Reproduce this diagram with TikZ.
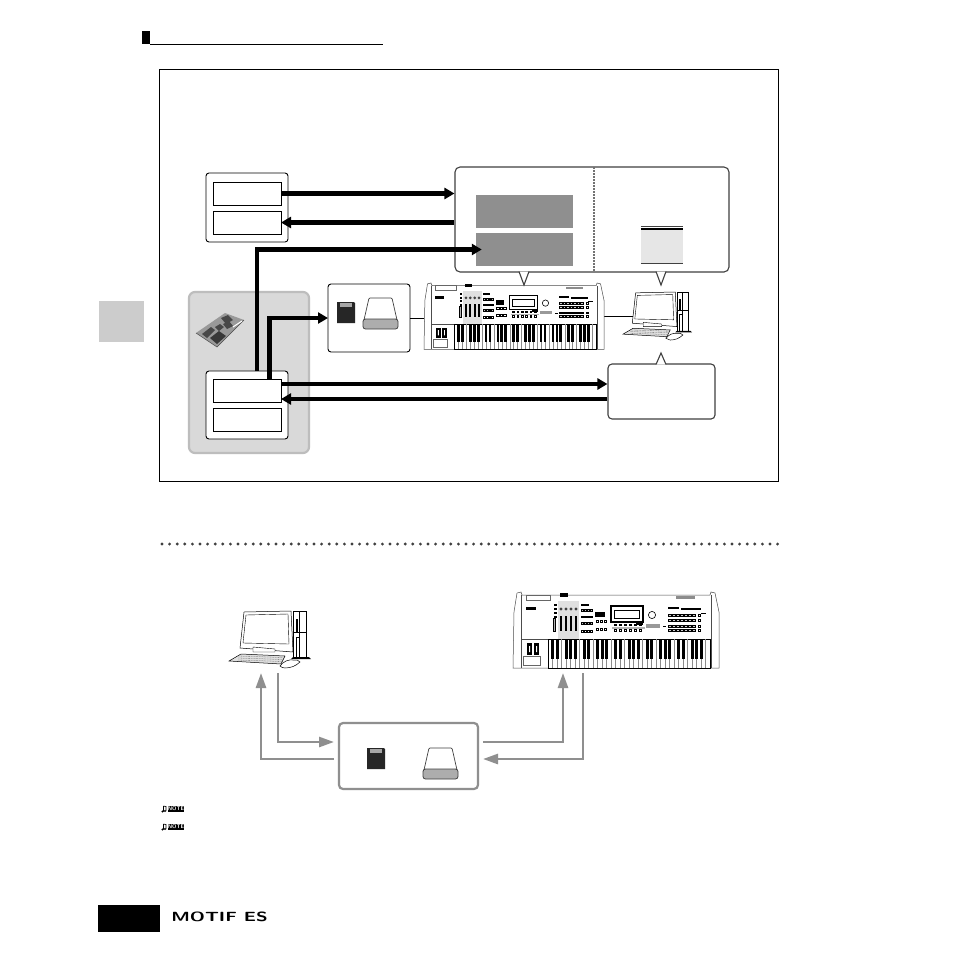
\documentclass[tikz,border=0pt]{standalone}
\usepackage{amsmath}
\usetikzlibrary{arrows.meta,fit,positioning}
\definecolor{panelgray}{HTML}{D9D9D9}
\definecolor{rimgray}{HTML}{BDBDBD}
\definecolor{linkgray}{HTML}{8F8F8F}
\definecolor{memgray}{HTML}{8F8F8F}
\definecolor{docgray}{HTML}{E6E6E6}
\definecolor{inkgray}{HTML}{404040}
\tikzset{
    box/.style = {draw, inner sep=0, outer sep=0, minimum width=#1},
    box/.default = 68pt,
    slot/.style = {box, minimum height=23pt, line width=.8pt},
    outer/.style = {box=82pt, rounded corners=3pt, line width=.9pt, fill=white},
    bubble/.style = {draw=inkgray, line width=1.1pt, fill=white},
    mem/.style = {fill=memgray, inner sep=0, minimum width=97pt, minimum height=33pt},
    hole/.style = {inner sep=0, outer sep=0},
    fat/.style = {line width=4.6pt, -{Triangle[length=10pt,width=11pt]}},
    link/.style = {draw=linkgray, line width=2.6pt, -{Triangle[length=15pt,width=10pt]}},
    pics/floppy/.style = {code={
      \fill[black!85] (0,0) -- (17,0) -- (18,1) -- (18,21) -- (0,21) -- cycle;
      \fill[black!35] (3,1) rectangle (15,5);
    }},
    pics/drive/.style = {code={
      \draw[inkgray,fill=white,line width=.7pt,rounded corners=1pt] (6,0) -- (29,0) -- (34,22) -- (1,22) -- cycle;
      \draw[inkgray,fill=black!32,line width=.8pt,rounded corners=2.5pt] (0,21) rectangle (35,31);
    }},
    pics/board/.style = {code={
      \fill[black!40] (0,20) -- (29,0) -- (48,7) -- (21,34) -- cycle;
      \draw[black!70,line width=.5pt] (0,20) -- (21,34) -- (48,7);
      \fill[black!72] (25,5) -- (32,2) -- (37,7) -- (30,11) -- cycle;
      \fill[black!72] (6,21) -- (15,14) -- (19,17) -- (11,25) -- cycle;
      \fill[black!72] (19,14) -- (24,11) -- (28,14) -- (23,18) -- cycle;
      \fill[black!72] (27,11) -- (33,8) -- (37,13) -- (31,16) -- cycle;
      \fill[black!78] (14,25) -- (23,18) -- (30,23) -- (21,31) -- cycle;
      \draw[white,line width=1pt] (37,14) -- (46,8);
    }},
    pics/desktop/.style = {code={
      % tower
      \draw[fill=white,line width=.5pt] (64,0) rectangle (77,47);
      \draw[line width=.4pt] (64,21) -- (77,21) (70,0) -- (70,47);
      \fill (67,8) rectangle (69,21);
      \draw[line width=.4pt] (67,26) rectangle (70,46);
      \fill (64,46) -- (80,46) -- (82,48) -- (62,48) -- cycle;
      % monitor
      \draw[fill=white,line width=.5pt] (15,1) -- (62,0) -- (64,41) -- (11,37) -- cycle;
      \draw[line width=.4pt] (17,4) -- (59,3) -- (60,33) -- (14,32) -- cycle;
      \draw[fill=white,line width=.4pt] (24,36) -- (46,38) -- (46,41) -- (24,41) -- cycle;
      % keys and mouse
      \draw[fill=black!12,line width=.5pt] (0,50) -- (12,43) -- (56,45) -- (52,53) -- cycle;
      \foreach \rowy in {45,47,49}
        \draw[black!60,line width=.3pt,dash pattern=on 1pt off .6pt] (9,\rowy) -- (54,\rowy+1.5);
      \draw[fill=white,line width=.5pt] (51,55) to[bend left=30] (65,49) to[bend left=30] (71,51) to[bend left=20] (56,57) to[bend left=20] cycle;
    }},
    pics/synth/.style = {code={
      % case and wings
      \draw[fill=white,draw=black!70,line width=.5pt] (0,76) -- (1,20) -- (4,1) -- (8,0) -- (9,3) -- (197,3) -- (198,0) -- (202,1) -- (206,20) -- (206,76) -- cycle;
      \draw[black!70,line width=.4pt] (8,3) -- (8,47) -- (198,47) -- (198,3) (8,47) -- (8,76) (198,47) -- (198,76);
      % light slider zone
      \fill[black!12] (45,9) rectangle (66,47);
      % top panel
      \draw[black!60,line width=.4pt] (13,3) rectangle (37,8);
      \fill (47,1) rectangle (55,5);
      \fill[black!45] (163,4) rectangle (182,7);
      \fill (13,15) rectangle (23,18);
      % faders and buttons
      \foreach \colx in {48,53,58,63} {
        \fill (\colx-1,24) rectangle (\colx+1,39);
        \fill[black!75] (\colx,17) circle (1.7);
      }
      \draw[fill=black!30,line width=.3pt] (40,26) rectangle (42,39);
      \foreach \coly in {13,17,21,25} \draw[line width=.3pt] (41,\coly-1) rectangle (43,\coly);
      \fill (68,12) rectangle (76,14);
      \foreach \colx in {68,71,74,77} {
        \draw[fill=black!25,line width=.25pt] (\colx,17) rectangle +(2,2.5);
        \draw[fill=black!25,line width=.25pt] (\colx,30) rectangle +(2,2.5);
        \draw[line width=.25pt] (\colx,38) rectangle +(2,2.5);
      }
      \fill (68,24) rectangle (80,26);
      \fill (82,20) rectangle (92,25);
      \foreach \colx in {83,87,91} {
        \draw[line width=.25pt] (\colx,28) rectangle +(2.5,2);
        \draw[line width=.25pt] (\colx,36) rectangle +(2.5,2);
      }
      % display and knob
      \draw[fill=white,line width=1.1pt] (98,14) rectangle (130,30);
      \draw[line width=.4pt] (101,18) rectangle (126,26);
      \fill (123,30) rectangle (130,33);
      \fill[black!30] (99,35) rectangle (132,37);
      \foreach \colx in {101,106,...,126} {
        \draw[line width=.25pt] (\colx,32) rectangle +(2,1.6);
        \draw[line width=.25pt] (\colx,37) rectangle +(2,2);
      }
      \draw[line width=.6pt] (139,23) circle (3.6);
      \fill[black!40] (133,32) rectangle (147,36);
      \fill (150,34) rectangle (153,35);
      % right hand button rows
      \fill (155,15) rectangle (166,17);
      \fill (168,16) rectangle (188,18);
      \fill (188,21) rectangle (193,22);
      \foreach \rowy in {22,27,33,37} {
        \foreach \colx in {155,159,...,179}
          \draw[fill=black!20,line width=.25pt] (\colx,\rowy) rectangle +(3,2);
        \draw[line width=.25pt] (185,\rowy) rectangle +(2.5,2);
      }
      % wheels
      \fill (14,51) rectangle (19,63);
      \fill (21,51) rectangle (26,63);
      \fill[white] (16,54) rectangle (17,60) (23,54) rectangle (24,60);
      \draw[black!60,line width=.4pt] (10,64) rectangle (27,73);
      % keybed
      \draw[fill=white,line width=.7pt] (35,47) rectangle (197,76);
      \foreach \keyn in {1,...,35}
        \draw[black!45,line width=.3pt] (35+\keyn*4.5,47) -- (35+\keyn*4.5,76);
      \foreach \oct in {0,...,4}
        \foreach \blk in {1,2,4,5,6}
          \fill (35+\oct*31.5+\blk*4.5-1.5,47) rectangle +(3,20);
      \draw[line width=1pt] (35,76) -- (197,76);
    }}
}
\begin{document}
\begin{tikzpicture}[x=1pt,y=-1pt]
      \useasboundingbox[fill=white] (0,0) rectangle (954,954);

      % page furniture
      \node[fill=black,inner sep=0,minimum width=8pt,minimum height=13pt] (mark) at (146,37.5) {};
      \draw[line width=1pt] (mark.south east) -- ++(233,0);
      \node[fill=black!20,inner sep=0,minimum width=45pt,minimum height=41pt] (tab) at (121.5,321.5) {};
      \node[fill=black,inner sep=0,minimum width=62pt,minimum height=27pt] (folio) at (129,918.5) {};
      \node[inner sep=0] (logo) at (219.5,917) {\scalebox{1.36}[.95]{\fontsize{14}{14}\selectfont\sffamily\bfseries MOTIF ES}};

      % upper figure
      \node[draw,line width=.8pt,inner sep=0,minimum width=619pt,minimum height=412pt] (frame) at (468.5,275) {};
      \node[fill=panelgray,draw=rimgray,line width=2.2pt,rounded corners=6pt,inner sep=0,minimum width=120pt,minimum height=161pt] (panel) at (249,372.5) {};
      \pic at (196,313) {board};

      \node[outer,minimum height=69pt] (outA) at (247,207.5) {};
      \node[slot] (slotA1) at (247,193.5) {};
      \node[slot] (slotA2) at (247,222.5) {};
      \node[outer,minimum height=68pt] (outB) at (247,405) {};
      \node[slot] (slotB1) at (247,390.5) {};
      \node[slot] (slotB2) at (247,419.5) {};

      \node[outer,minimum height=68pt] (mediaA) at (369,318) {};
      \pic at (337,302) {floppy};
      \pic at (363,298) {drive};

      \node[hole,minimum width=180pt,minimum height=68pt] (synthA) at (514,317) {};
      \node[hole,minimum width=70pt,minimum height=48pt] (pcA) at (658,316) {};
      \path (mediaA.east) edge[line width=.7pt] (synthA.west |- mediaA.east);
      \path (synthA.east |- pcA.west) edge[line width=.7pt] ([xshift=14pt]pcA.west);
      \pic[scale=.874] at (424,283) {synth};
      \pic[scale=.843] at (623,292) {desktop};

      \node[hole,minimum width=139pt,minimum height=105pt] (callA) at (524.5,219.5) {};
      \node[hole,minimum width=135pt,minimum height=105pt] (callB) at (661.5,219.5) {};
      \node[bubble,rounded corners=5pt,inner sep=0,fit=(callA) (callB)] (callAll) {};
      \draw[bubble] (519,271.5) -- (524,285) -- (529,271.5);
      \draw[bubble] (656,271.5) -- (661,285) -- (666,271.5);
      \draw[linkgray!80!black,line width=2pt,dash pattern=on 1.6pt off 1.4pt] (callA.north east) -- (callA.south east);
      \node[mem] (memA) at (524.5,211.5) {};
      \node[mem] (memB) at (524.5,249.5) {};
      \node[fill=docgray,inner sep=0,minimum width=42pt,minimum height=34pt] (doc) at (662,246) {};
      \draw[line width=.5pt,inkgray] ([yshift=3pt]doc.north west) -- ([yshift=3pt]doc.north east);
      \draw[line width=2pt] (doc.north west) -- (doc.north east);
      \draw[line width=.5pt,inkgray] (doc.south west) -- (doc.south east);

      \node[bubble,rounded corners=4pt,inner sep=0,minimum width=107pt,minimum height=55pt] (callC) at (661.5,391.5) {};
      \draw[bubble] (656,364.5) -- (661,353) -- (666,364.5);

      \path (slotA1.east) edge[fat] (callAll.west |- slotA1.east);
      \path (callAll.west |- slotA2.east) edge[fat] (slotA2.east);
      \draw[fat] ([xshift=10pt]outB.north) |- ([xshift=6pt]memB.west);
      \draw[fat] ([xshift=22.5pt]slotB1.north) |- (mediaA.west);
      \path ([yshift=6.5pt]slotB1.east) edge[fat] (callC.west |- 0,384);
      \path (callC.west |- 0,399) edge[fat] ([yshift=-8.5pt]slotB1.east);

      % lower figure
      \draw[inkgray,line width=3.2pt,line cap=round,dash pattern=on 0pt off 7.6pt] (162,544) -- (778,544);

      \node[hole,minimum width=83pt,minimum height=62pt] (pcB) at (270.5,642) {};
      \node[hole,minimum width=206pt,minimum height=81pt] (synthB) at (616,632.5) {};
      \pic at (229,611) {desktop};
      \pic at (513,592) {synth};

      \node[draw=linkgray,line width=2.2pt,rounded corners=4pt,inner sep=0,outer sep=5pt,minimum width=139pt,minimum height=66pt] (mediaB) at (408.5,756) {};
      \pic at (367,748) {floppy};
      \pic at (423,748) {drive};

      \draw[link] ([yshift=-3pt]mediaB.west) -| ([xshift=-9.5pt]pcB.south);
      \draw[link] ([xshift=7.5pt]pcB.south) |- ([yshift=14pt]mediaB.west);
      \draw[link] ([yshift=14pt]mediaB.east) -| ([xshift=-53pt]synthB.south);
      \draw[link] ([xshift=-33pt]synthB.south) |- ([yshift=-3pt]mediaB.east);

      % note marks
      \foreach \notey/\notename in {809/noteA,827/noteB} {
        \node[fill=black,text=white,inner sep=0,minimum width=16pt,minimum height=6.5pt,font=\sffamily\bfseries\fontsize{5.5}{5.5}\selectfont] (\notename) at (176,\notey) {NOTE};
        \draw[line width=.7pt] (163.5,\notey-3) -- (166,\notey-2.5) -- (166,\notey+2) (163.5,\notey-3) -- (163.5,\notey+2.5);
        \fill (162.5,\notey+2.5) circle (1.2) (165,\notey+2) circle (1.2);
      }
\end{tikzpicture}
\end{document}
